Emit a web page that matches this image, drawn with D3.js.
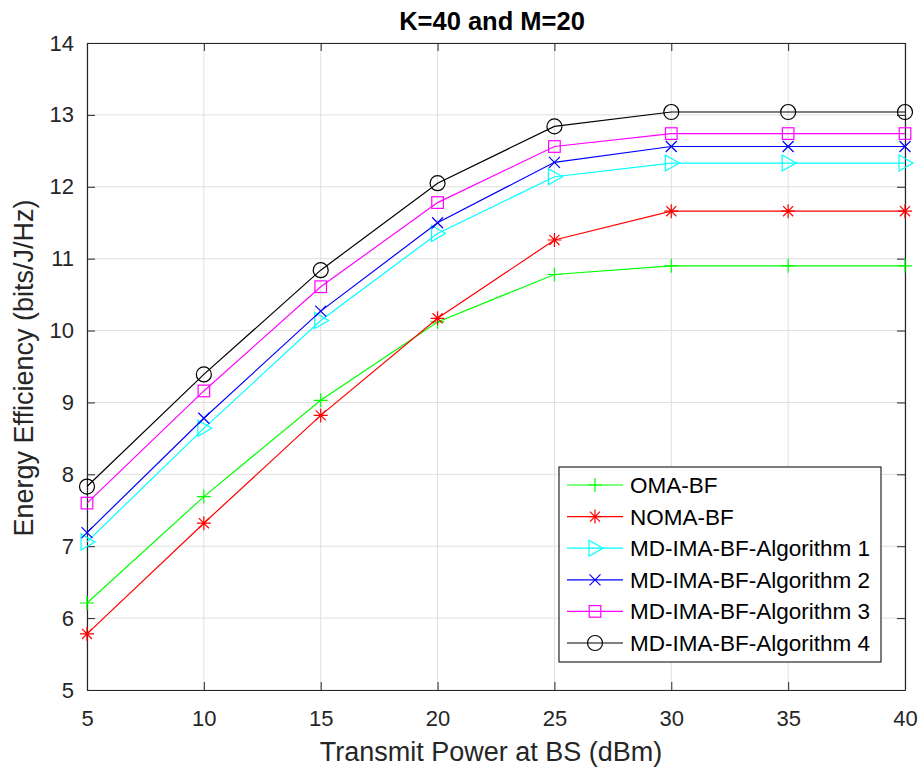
<!DOCTYPE html>
<html>
<head>
<meta charset="utf-8">
<script src="https://cdn.jsdelivr.net/npm/d3@7"></script>
<style>
  body { margin: 0; background: #fff; }
  svg { display: block; font-family: "Liberation Sans", Arial, Helvetica, sans-serif; }
</style>
</head>
<body>
<svg id="chart" width="922" height="771"></svg>
<script>
// Transmit power levels (dBm)
const powers = [5, 10, 15, 20, 25, 30, 35, 40];

// Energy efficiency (bits/J/Hz) per scheme
const omaBF   = [6.21, 7.69, 9.03, 10.12, 10.78, 10.90, 10.90, 10.90];
const nomaBF  = [5.78, 7.32, 8.82, 10.17, 11.26, 11.66, 11.66, 11.66];
const alg1    = [7.06, 8.64, 10.14, 11.35, 12.14, 12.33, 12.33, 12.33];
const alg2    = [7.19, 8.78, 10.27, 11.50, 12.34, 12.56, 12.56, 12.56];
const alg3    = [7.60, 9.16, 10.61, 11.78, 12.56, 12.74, 12.74, 12.74];
const alg4    = [7.83, 9.39, 10.84, 12.05, 12.84, 13.04, 13.04, 13.04];

const seriesNames = ["OMA-BF", "NOMA-BF", "MD-IMA-BF-Algorithm 1",
                     "MD-IMA-BF-Algorithm 2", "MD-IMA-BF-Algorithm 3", "MD-IMA-BF-Algorithm 4"];
const seriesValues = [omaBF, nomaBF, alg1, alg2, alg3, alg4];
const seriesColors = ["#00ff00", "#ff0000", "#00ffff", "#0000ff", "#ff00ff", "#000000"];
const seriesMarkers = ["plus", "star", "triangleRight", "cross", "square", "circle"];

const xTicks = [5, 10, 15, 20, 25, 30, 35, 40];
const yTicks = [5, 6, 7, 8, 9, 10, 11, 12, 13, 14];

const svg = d3.select("#chart");
const plotL = 87, plotR = 905, plotT = 43, plotB = 690;

const x = d3.scaleLinear().domain([5, 40]).range([plotL, plotR]);
const y = d3.scaleLinear().domain([5, 14]).range([plotB, plotT]);

const axisColor = "#262626";

// grid
const grid = svg.append("g");
grid.selectAll("line.vx").data(xTicks).join("line")
  .attr("x1", d => x(d)).attr("x2", d => x(d))
  .attr("y1", plotT).attr("y2", plotB)
  .attr("stroke", "#dfdfdf").attr("stroke-width", 1);
grid.selectAll("line.hy").data(yTicks).join("line")
  .attr("x1", plotL).attr("x2", plotR)
  .attr("y1", d => y(d)).attr("y2", d => y(d))
  .attr("stroke", "#dfdfdf").attr("stroke-width", 1);

// axes with inward ticks
const tickLen = 8;
const xAxisB = d3.axisBottom(x).tickValues(xTicks).tickSizeInner(-tickLen).tickSizeOuter(0).tickPadding(20);
const xAxisT = d3.axisTop(x).tickValues(xTicks).tickSizeInner(-tickLen).tickSizeOuter(0).tickFormat("");
const yAxisL = d3.axisLeft(y).tickValues(yTicks).tickSizeInner(-tickLen).tickSizeOuter(0).tickPadding(13);
const yAxisR = d3.axisRight(y).tickValues(yTicks).tickSizeInner(-tickLen).tickSizeOuter(0).tickFormat("");

function styleAxis(g) {
  g.selectAll("path").attr("stroke", axisColor).attr("stroke-width", 1.2);
  g.selectAll("line").attr("stroke", axisColor).attr("stroke-width", 1);
  g.selectAll("text").attr("fill", axisColor).style("font-size", "22px")
    .style("font-family", "'Liberation Sans', Arial, Helvetica, sans-serif");
}

svg.append("g").attr("transform", `translate(0,${plotB})`).call(xAxisB).call(styleAxis);
svg.append("g").attr("transform", `translate(0,${plotT})`).call(xAxisT).call(styleAxis);
svg.append("g").attr("transform", `translate(${plotL},0)`).call(yAxisL).call(styleAxis);
svg.append("g").attr("transform", `translate(${plotR},0)`).call(yAxisR).call(styleAxis);

// marker drawing
function drawMarker(g, type, cx, cy, color) {
  const s = 7;
  if (type === "plus") {
    g.append("path").attr("d", `M${cx - s},${cy}H${cx + s}M${cx},${cy - s}V${cy + s}`)
      .attr("stroke", color).attr("stroke-width", 1.2).attr("fill", "none");
  } else if (type === "star") {
    const r = 7, d = r * 0.72;
    g.append("path").attr("d",
      `M${cx - r},${cy}H${cx + r}M${cx},${cy - r}V${cy + r}` +
      `M${cx - d},${cy - d}L${cx + d},${cy + d}M${cx - d},${cy + d}L${cx + d},${cy - d}`)
      .attr("stroke", color).attr("stroke-width", 1.2).attr("fill", "none");
  } else if (type === "triangleRight") {
    const r = 8;
    g.append("path").attr("d", `M${cx - r * 0.75},${cy - r}L${cx + r},${cy}L${cx - r * 0.75},${cy + r}Z`)
      .attr("stroke", color).attr("stroke-width", 1.2).attr("fill", "none");
  } else if (type === "cross") {
    const r = 5.5;
    g.append("path").attr("d", `M${cx - r},${cy - r}L${cx + r},${cy + r}M${cx - r},${cy + r}L${cx + r},${cy - r}`)
      .attr("stroke", color).attr("stroke-width", 1.2).attr("fill", "none");
  } else if (type === "square") {
    const r = 5.8;
    g.append("rect").attr("x", cx - r).attr("y", cy - r).attr("width", 2 * r).attr("height", 2 * r)
      .attr("stroke", color).attr("stroke-width", 1.2).attr("fill", "none");
  } else if (type === "circle") {
    g.append("circle").attr("cx", cx).attr("cy", cy).attr("r", 7.5)
      .attr("stroke", color).attr("stroke-width", 1.2).attr("fill", "none");
  }
}

// series lines and markers
const line = d3.line().x((d, i) => x(powers[i])).y(d => y(d));
seriesValues.forEach((vals, k) => {
  const g = svg.append("g");
  g.append("path").datum(vals).attr("d", line)
    .attr("fill", "none").attr("stroke", seriesColors[k]).attr("stroke-width", 1.2);
  vals.forEach((v, i) => drawMarker(g, seriesMarkers[k], x(powers[i]), y(v), seriesColors[k]));
});

// title and axis labels
svg.append("text").attr("x", 492).attr("y", 29.5)
  .attr("text-anchor", "middle").style("font-size", "25.5px").style("font-weight", "bold")
  .attr("fill", "#000").text("K=40 and M=20");

svg.append("text").attr("x", 491).attr("y", 761)
  .attr("text-anchor", "middle").style("font-size", "27px").attr("fill", axisColor)
  .text("Transmit Power at BS (dBm)");

svg.append("text").attr("transform", `translate(33,368) rotate(-90)`)
  .attr("text-anchor", "middle").style("font-size", "27px").attr("fill", axisColor)
  .text("Energy Efficiency (bits/J/Hz)");

// legend
const lg = svg.append("g");
const lx = 559, ly = 467, lw = 322, lh = 195;
lg.append("rect").attr("x", lx).attr("y", ly).attr("width", lw).attr("height", lh)
  .attr("fill", "#fff").attr("stroke", axisColor).attr("stroke-width", 1.2);
seriesNames.forEach((name, k) => {
  const cy = ly + 18 + k * 31.6;
  lg.append("line").attr("x1", lx + 8).attr("x2", lx + 64).attr("y1", cy).attr("y2", cy)
    .attr("stroke", seriesColors[k]).attr("stroke-width", 1.2);
  drawMarker(lg, seriesMarkers[k], lx + 36, cy, seriesColors[k]);
  lg.append("text").attr("x", lx + 71).attr("y", cy + 8)
    .style("font-size", "22.5px").attr("fill", "#000").text(name);
});
</script>
</body>
</html>
